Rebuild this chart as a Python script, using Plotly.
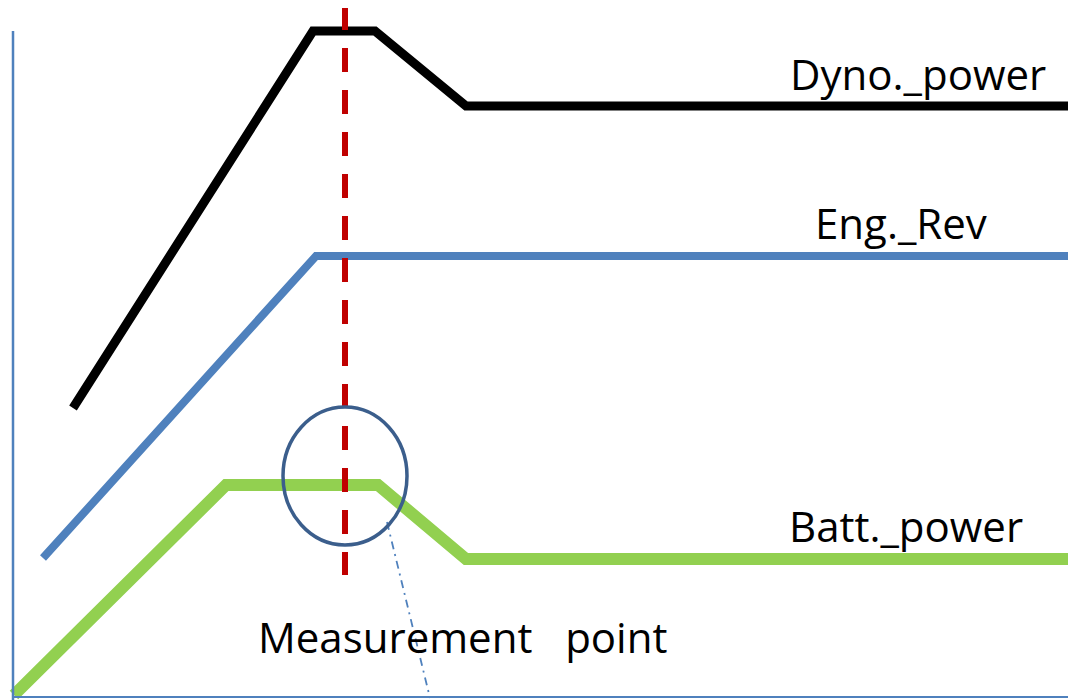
import plotly.graph_objects as go

# Schematic signals (x: time units, y: level units)
dyno_x = [73, 313, 375, 466, 1072]
dyno_y = [292, 669, 669, 594, 594]

eng_x = [43, 316, 1072]
eng_y = [142, 444, 444]

batt_x = [14, 226, 378, 466, 1072]
batt_y = [5, 215, 215, 141, 141]

# Measurement marker
meas_x = [345, 345]
meas_y = [694, 125]

# Leader line from circle to label area
lead_x = [387, 430]
lead_y = [178, 2]

labels = ["Dyno._power", "Eng._Rev", "Batt._power", "Measurement   point"]
label_x = [918, 901, 906, 462]
label_y = [627, 478, 175, 64]

fig = go.Figure()

fig.add_trace(go.Scatter(x=dyno_x, y=dyno_y, mode="lines",
                         line=dict(color="#000000", width=9), hoverinfo="skip"))
fig.add_trace(go.Scatter(x=eng_x, y=eng_y, mode="lines",
                         line=dict(color="#4f81bd", width=8), hoverinfo="skip"))
fig.add_trace(go.Scatter(x=batt_x, y=batt_y, mode="lines",
                         line=dict(color="#92d050", width=12), hoverinfo="skip"))
fig.add_trace(go.Scatter(x=meas_x, y=meas_y, mode="lines",
                         line=dict(color="#c00000", width=6, dash="24px,18px"),
                         hoverinfo="skip"))
fig.add_trace(go.Scatter(x=lead_x, y=lead_y, mode="lines",
                         line=dict(color="#4f81bd", width=1.8, dash="8px,5px,2px,5px"),
                         hoverinfo="skip"))

# axes drawn as plain lines
fig.add_shape(type="line", x0=13, x1=13, y0=669, y1=0,
              line=dict(color="#4f81bd", width=2.5))
fig.add_shape(type="line", x0=12, x1=1076, y0=3, y1=3,
              line=dict(color="#4f81bd", width=2))

# circle around the measurement point
fig.add_shape(type="circle", x0=283, x1=407, y0=155, y1=293,
              line=dict(color="#3b5e8c", width=3.5))

for t, x, y in zip(labels, label_x, label_y):
    fig.add_annotation(x=x, y=y, text=t, showarrow=False,
                       font=dict(family="Open Sans", size=42, color="#000000"),
                       xanchor="center", yanchor="middle")

# page body has an 8px margin, so the figure is a bit smaller and
# the ranges start where the page offset lands
fig.update_layout(
    width=1068, height=692,
    margin=dict(l=0, r=0, t=0, b=0),
    paper_bgcolor="white", plot_bgcolor="white",
    showlegend=False,
    xaxis=dict(range=[8, 1076], visible=False, fixedrange=True),
    yaxis=dict(range=[0, 692], visible=False, fixedrange=True),
)

fig.write_html("out.html")
